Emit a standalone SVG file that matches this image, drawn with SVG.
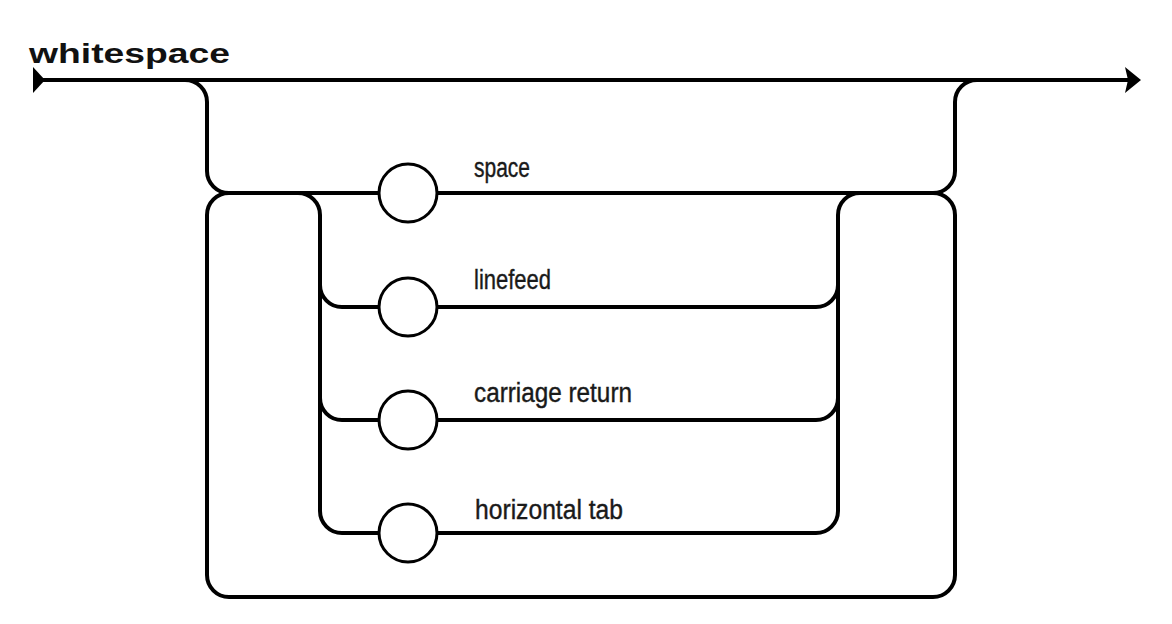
<svg xmlns="http://www.w3.org/2000/svg" width="1172" height="624" viewBox="0 0 1172 624">
<style>
.ln{fill:none;stroke:#000;stroke-width:4;stroke-linecap:round}
.nd{fill:#fff;stroke:#000;stroke-width:3}
.lb{font-family:"Liberation Sans",Arial,sans-serif;font-size:27px;fill:#1a1a1a;stroke:#1a1a1a;stroke-width:0.4}
.tt{font-family:"Liberation Sans",Arial,sans-serif;font-size:28px;font-weight:bold;fill:#111}
</style>
<rect width="1172" height="624" fill="#fff"/>
<text class="tt" x="29" y="63" textLength="201" lengthAdjust="spacingAndGlyphs">whitespace</text>
<g id="connectors">
<path class="ln" d="M36,80 H1130"/>
<polygon points="33,67 45,80 33,93" fill="#000"/>
<polygon points="1125,67 1141,80 1125,93 1128,80" fill="#000"/>
<path class="ln" d="M185,80 A22 22 0 0 1 207 102 V171 A22 22 0 0 0 229 193 H933 A22 22 0 0 0 955 171 V102 A22 22 0 0 1 977 80"/>
<path class="ln" d="M229,193 A22 22 0 0 0 207 215 V575 A22 22 0 0 0 229 597 H933 A22 22 0 0 0 955 575 V215 A22 22 0 0 0 933 193"/>
<path class="ln" d="M298,193 A22 22 0 0 1 320 215 V511 A22 22 0 0 0 342 533 H816 A22 22 0 0 0 838 511 V215 A22 22 0 0 1 860 193"/>
<path class="ln" d="M320,285 A22 22 0 0 0 342 307 H816 A22 22 0 0 0 838 285"/>
<path class="ln" d="M320,398 A22 22 0 0 0 342 420 H816 A22 22 0 0 0 838 398"/>
</g>
<g id="space"><circle class="nd" cx="408" cy="193" r="29"/><text class="lb" x="474" y="177" textLength="56" lengthAdjust="spacingAndGlyphs">space</text></g>
<g id="linefeed"><circle class="nd" cx="408" cy="307" r="29"/><text class="lb" x="474" y="289" textLength="77" lengthAdjust="spacingAndGlyphs">linefeed</text></g>
<g id="carriage-return"><circle class="nd" cx="408" cy="420" r="29"/><text class="lb" x="474" y="402" textLength="158" lengthAdjust="spacingAndGlyphs">carriage  return</text></g>
<g id="horizontal-tab"><circle class="nd" cx="408" cy="533" r="29"/><text class="lb" x="475" y="519" textLength="148" lengthAdjust="spacingAndGlyphs">horizontal  tab</text></g>
</svg>
